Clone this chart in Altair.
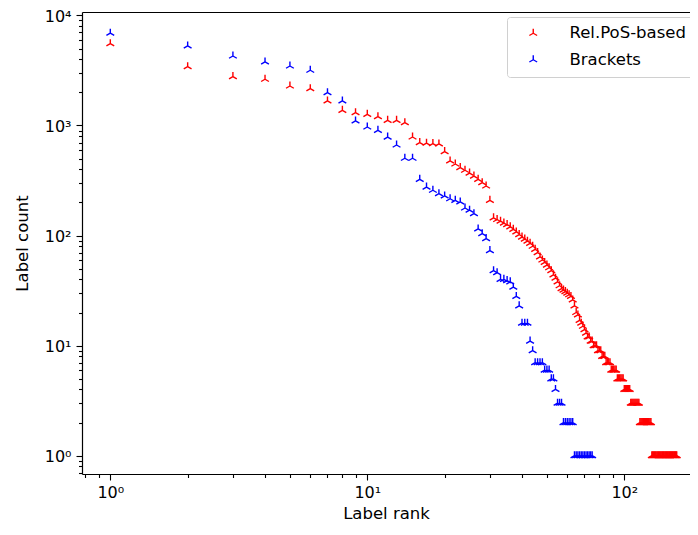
import altair as alt
import pandas as pd

# ---------------- data ----------------
series_names = ["Rel.PoS-based", "Brackets"]
series_colors = ["#ff0000", "#0000ff"]

red_counts = [
    5540, 3425, 2780, 2630, 2285, 2160, 1670, 1374, 1306, 1264,
    1203, 1114, 1114, 1060, 786, 700, 690, 685, 680, 580,
    476, 447, 415, 392, 370, 347, 324, 302, 282, 209,
    145, 140, 135, 130, 126, 120, 114, 108, 102, 97,
    93, 89, 85, 80, 75, 70, 64, 60, 57, 54,
    51, 48, 44, 41, 38, 35, 33, 32, 31, 30,
    29, 28, 26, 23, 20, 19, 17, 16, 15, 14,
    13, 12, 12, 11, 11, 10, 10, 10, 9, 9,
    9, 8, 8, 8, 7, 7, 7, 7, 6, 6,
    6, 6, 6, 5, 5, 5, 5, 5, 5, 4,
    4, 4, 4, 4, 4, 3, 3, 3, 3, 3,
    3, 3, 3, 3, 2, 2, 2, 2, 2, 2,
    2, 2, 2, 2, 2, 2, 2, 1, 1, 1,
    1, 1, 1, 1, 1, 1, 1, 1, 1, 1,
    1, 1, 1, 1, 1, 1, 1, 1, 1, 1,
    1, 1, 1, 1, 1, 1, 1, 1, 1, 1,
]
blue_counts = [
    6890, 5280, 4280, 3780, 3470, 3175, 1987, 1670, 1099, 969,
    903, 785, 665, 504, 504, 324, 276, 258, 240, 229,
    216, 209, 202, 178, 170, 158, 115, 104, 94, 73,
    48, 46, 40, 40, 39, 38, 34, 28, 23, 16,
    16, 16, 11, 9, 7, 7, 7, 7, 6, 6,
    6, 5, 5, 4, 3, 3, 3, 2, 2, 2,
    2, 2, 2, 1, 1, 1, 1, 1, 1, 1,
    1, 1, 1, 1, 1,
]
red_ranks = list(range(1, len(red_counts) + 1))
blue_ranks = list(range(1, len(blue_counts) + 1))

x_major = [1, 10, 100]
x_major_labels = ["10⁰", "10¹", "10²"]
x_minor = [0.8, 0.9, 2, 3, 4, 5, 6, 7, 8, 9, 20, 30, 40, 50, 60, 70, 80, 90]
y_major = [1, 10, 100, 1000, 10000]
y_major_labels = ["10⁰", "10¹", "10²", "10³", "10⁴"]
y_minor = [0.7, 0.8, 0.9, 2, 3, 4, 5, 6, 7, 8, 9,
           20, 30, 40, 50, 60, 70, 80, 90,
           200, 300, 400, 500, 600, 700, 800, 900,
           2000, 3000, 4000, 5000, 6000, 7000, 8000, 9000]

x_title = "Label rank"
y_title = "Label count"

# ---------------- build table ----------------
df = pd.concat([
    pd.DataFrame({"rank": red_ranks, "count": red_counts, "series": series_names[0], "order": 0}),
    pd.DataFrame({"rank": blue_ranks, "count": blue_counts, "series": series_names[1], "order": 1}),
], ignore_index=True)


def label_expr(vals, labs):
    expr = "''"
    for v, l in reversed(list(zip(vals, labs))):
        expr = f"datum.value == {v} ? '{l}' : ({expr})"
    return expr


FONT = "DejaVu Sans"
TRI = "M0,0L0,-1M0,0L0.866,0.5M0,0L-0.866,0.5"

xscale = alt.Scale(type="log", domain=[0.776, 180.2], nice=False)
yscale = alt.Scale(type="log", domain=[0.6823, 10740], nice=False)

points = alt.Chart(df).mark_point(
    shape=TRI, filled=False, strokeWidth=1.4, size=81, opacity=1
).encode(
    x=alt.X("rank:Q", scale=xscale,
            axis=alt.Axis(values=x_major, labelExpr=label_expr(x_major, x_major_labels),
                          orient="bottom", grid=False, tickSize=6, labelPadding=4,
                          title=x_title, titlePadding=5)),
    y=alt.Y("count:Q", scale=yscale,
            axis=alt.Axis(values=y_major, labelExpr=label_expr(y_major, y_major_labels),
                          orient="left", grid=False, tickSize=6, labelPadding=5,
                          labelOffset=1, title=y_title, titlePadding=14)),
    color=alt.Color("series:N",
                    scale=alt.Scale(domain=series_names, range=series_colors),
                    legend=alt.Legend(title=None, orient="none", legendX=425, legendY=5,
                                      symbolType=TRI, symbolSize=81, symbolStrokeWidth=1.4,
                                      labelFont=FONT, labelFontSize=16.5, labelColor="black",
                                      fillColor="white", strokeColor="#d0d0d0",
                                      cornerRadius=3, padding=8, rowPadding=9.5,
                                      symbolOffset=10, labelOffset=28)),
    order=alt.Order("order:Q"),
)

minor = alt.Chart(df).mark_point(opacity=0).encode(
    x=alt.X("rank:Q", scale=xscale,
            axis=alt.Axis(values=x_minor, labels=False, tickSize=3.5, domain=False,
                          grid=False, orient="bottom", title=None)),
    y=alt.Y("count:Q", scale=yscale,
            axis=alt.Axis(values=y_minor, labels=False, tickSize=3.5, domain=False,
                          grid=False, orient="left", title=None)),
)

top = alt.Chart(df).mark_point(opacity=0).encode(
    x=alt.X("rank:Q", scale=xscale,
            axis=alt.Axis(values=[], labels=False, ticks=False, domain=True,
                          grid=False, orient="top", title=None)),
    y=alt.Y("count:Q", scale=yscale, axis=None),
)

chart = alt.layer(minor, top, points).resolve_axis(
    x="independent", y="independent"
).properties(
    width=608, height=462,
    padding={"left": 74, "top": 4, "right": 0, "bottom": 50},
    autosize=alt.AutoSizeParams(type="none"),
    background="white",
).configure_view(
    stroke=None
).configure_axis(
    domainColor="black", domainWidth=1.2, tickColor="black", tickWidth=1.1,
    labelFont=FONT, labelFontSize=16, labelColor="black",
    titleFont=FONT, titleFontSize=16.5, titleFontWeight="normal", titleColor="black",
)

chart.save("out.html", embed_options={"renderer": "svg", "actions": False})
